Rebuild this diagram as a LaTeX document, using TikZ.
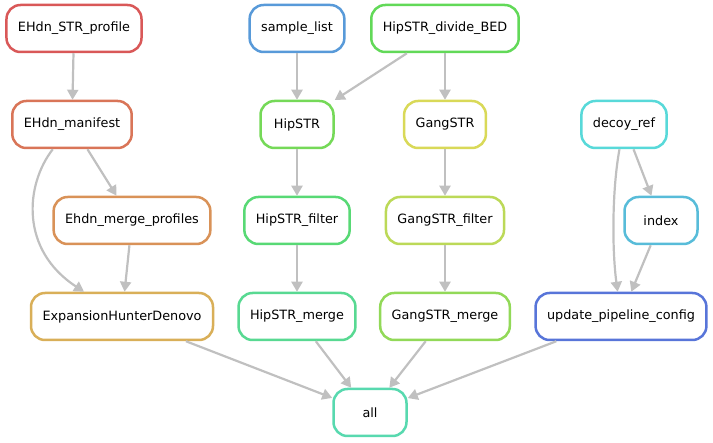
\documentclass[tikz,border=0pt]{standalone}
\usepackage{fontspec}
\setmainfont{DejaVu Sans}
\usepackage{tikz}
\usetikzlibrary{arrows.meta, positioning}
\definecolor{edgegray}{RGB}{192,192,192}
\definecolor{cprofile}{RGB}{217,88,88}
\definecolor{csamples}{RGB}{88,154,217}
\definecolor{cdivbed}{RGB}{98,217,88}
\definecolor{cmanifest}{RGB}{217,117,88}
\definecolor{chipstr}{RGB}{117,217,88}
\definecolor{cgangstr}{RGB}{217,217,88}
\definecolor{cdecoy}{RGB}{88,217,217}
\definecolor{cmergeprof}{RGB}{217,146,88}
\definecolor{chipfilt}{RGB}{88,217,117}
\definecolor{cgangfilt}{RGB}{188,217,88}
\definecolor{cindex}{RGB}{88,188,217}
\definecolor{cehd}{RGB}{217,175,88}
\definecolor{chipmerge}{RGB}{88,217,146}
\definecolor{cgangmerge}{RGB}{146,217,88}
\definecolor{cupdate}{RGB}{88,117,217}
\definecolor{call}{RGB}{88,217,175}

\begin{document}
\begin{tikzpicture}[
  x=1pt, y=-1pt,
  node distance=46.5pt,
  rule/.style={rectangle, rounded corners=14pt, line width=2.5pt, fill=white,
               text centered, minimum height=47pt, minimum width=73pt,
               inner xsep=11.5pt, font=\fontsize{12.8}{15}\selectfont},
  edge/.style={-{Triangle[length=10pt, width=11pt]}, line width=2.2pt, color=edgegray}
]
\useasboundingbox (0,0) rectangle (713,443);

% --- top row ---
\node[rule, draw=cprofile] (profile) at (74,28.5) {EHdn\_STR\_profile};
\node[rule, draw=csamples] (samples) at (297,28.5) {sample\_list};
\node[rule, draw=cdivbed] (divbed) at (445,28.5) {HipSTR\_divide\_BED};

% --- second row ---
\node[rule, draw=cmanifest, below=of profile, xshift=-2pt] (manifest) {EHdn\_manifest};
\node[rule, draw=chipstr, below=of samples] (hipstr) {HipSTR};
\node[rule, draw=cgangstr, below=of divbed] (gangstr) {GangSTR};
\node[rule, draw=cdecoy] (decoy) at (624,124.5) {decoy\_ref};

% --- third row ---
\node[rule, draw=cmergeprof] (mergeprof) at (132,220.5) {Ehdn\_merge\_profiles};
\node[rule, draw=chipfilt, below=of hipstr] (hipfilt) {HipSTR\_filter};
\node[rule, draw=cgangfilt, below=of gangstr] (gangfilt) {GangSTR\_filter};
\node[rule, draw=cindex, below=of decoy, xshift=37pt] (index) {index};

% --- fourth row ---
\node[rule, draw=cehd] (ehd) at (122,316.5) {ExpansionHunterDenovo};
\node[rule, draw=chipmerge, below=of hipfilt] (hipmerge) {HipSTR\_merge};
\node[rule, draw=cgangmerge, below=of gangfilt] (gangmerge) {GangSTR\_merge};
\node[rule, draw=cupdate] (update) at (621,316.5) {update\_pipeline\_config};

% --- target ---
\node[rule, draw=call] (all) at (370,412.5) {all};

% --- edges ---
\draw[edge] (profile) -- (manifest);
\draw[edge] (manifest) -- (mergeprof);
\draw[edge] (manifest) .. controls (25,185) and (20,250) .. (ehd);
\draw[edge] (mergeprof) -- (ehd);

\draw[edge] (samples) -- (hipstr);
\draw[edge] (divbed) -- (hipstr);
\draw[edge] (divbed) -- (gangstr);
\draw[edge] (hipstr) -- (hipfilt);
\draw[edge] (hipfilt) -- (hipmerge);
\draw[edge] (gangstr) -- (gangfilt);
\draw[edge] (gangfilt) -- (gangmerge);

\draw[edge] (decoy) -- (index);
\draw[edge] (decoy) .. controls (612,190) and (612,250) .. (update);
\draw[edge] (index) -- (update);

\draw[edge] (ehd) -- (all);
\draw[edge] (hipmerge) -- (all);
\draw[edge] (gangmerge) -- (all);
\draw[edge] (update) -- (all);

\end{tikzpicture}
\end{document}
